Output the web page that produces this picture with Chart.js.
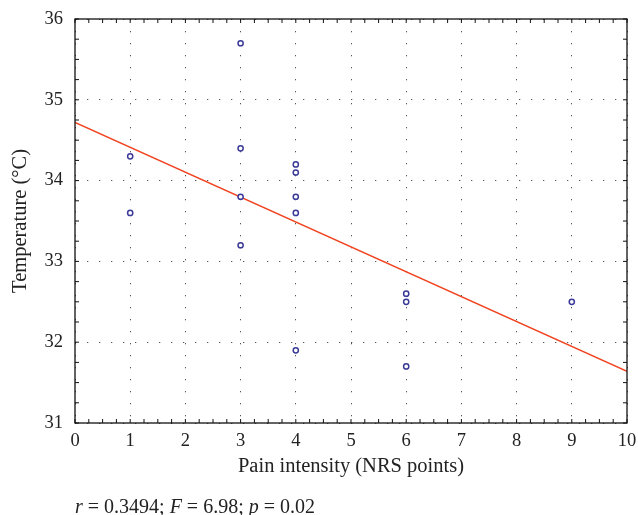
<!DOCTYPE html>
<html>
<head>
<meta charset="utf-8">
<script src="https://cdn.jsdelivr.net/npm/chart.js@4.4.1/dist/chart.umd.min.js"></script>
<style>
    body { margin: 0; background: #fff; }
    #wrap { position: relative; width: 638px; height: 515px; }
    #caption {
        position: absolute; left: 75px; top: 495px;
        font-family: 'Liberation Serif', serif; font-size: 20px; color: #222;
        line-height: 22px;
    }
</style>
</head>
<body>
<div id="wrap">
    <canvas id="scatterChart" width="638" height="515"></canvas>
    <div id="caption"><i>r</i> = 0.3494; <i>F</i> = 6.98; <i>p</i> = 0.02</div>
</div>
<script>
// Datos
const painX = [1, 1, 3, 3, 3, 3, 4, 4, 4, 4, 4, 6, 6, 6, 9];
const tempY = [34.3, 33.6, 35.7, 34.4, 33.8, 33.2, 34.2, 34.1, 33.8, 33.6, 31.9, 32.6, 32.5, 31.7, 32.5];

const fitX = [0, 10];
const fitY = [34.72, 31.64];

const xTicks = [0, 1, 2, 3, 4, 5, 6, 7, 8, 9, 10];
const yTicks = [31, 32, 33, 34, 35, 36];

const serif = "'Liberation Serif', 'Times New Roman', serif";

// Marco negro y marcas menores hacia dentro en los cuatro lados
const frameTicks = {
    id: 'frameTicks',
    afterDraw(chart) {
        const ctx = chart.ctx;
        const a = chart.chartArea;
        const xs = chart.scales.x;
        const ys = chart.scales.y;
        ctx.save();
        ctx.strokeStyle = '#111';
        ctx.lineWidth = 1.3;
        ctx.strokeRect(a.left, a.top, a.right - a.left, a.bottom - a.top);
        ctx.lineWidth = 1;
        ctx.beginPath();
        for (let v = xTicks[0]; v <= xTicks[xTicks.length - 1] + 0.001; v += 0.25) {
            const px = xs.getPixelForValue(v);
            ctx.moveTo(px, a.bottom); ctx.lineTo(px, a.bottom - 4);
            ctx.moveTo(px, a.top); ctx.lineTo(px, a.top + 4);
        }
        for (let v = yTicks[0]; v <= yTicks[yTicks.length - 1] + 0.001; v += 0.25) {
            const py = ys.getPixelForValue(v);
            ctx.moveTo(a.left, py); ctx.lineTo(a.left + 4, py);
            ctx.moveTo(a.right, py); ctx.lineTo(a.right - 4, py);
        }
        ctx.stroke();
        ctx.restore();
    }
};

const ctxScatter = document.getElementById('scatterChart').getContext('2d');
const scatterChart = new Chart(ctxScatter, {
    type: 'scatter',
    data: {
        datasets: [{
            label: 'Pacientes',
            data: painX.map((x, i) => ({ x: x, y: tempY[i] })),
            pointStyle: 'circle',
            pointRadius: 2.6,
            pointBorderWidth: 1.5,
            borderColor: '#3a3a98',
            backgroundColor: 'rgba(255,255,255,1)'
        }, {
            label: 'Regresión',
            data: fitX.map((x, i) => ({ x: x, y: fitY[i] })),
            showLine: true,
            pointRadius: 0,
            borderColor: '#f0431f',
            borderWidth: 1.3
        }]
    },
    options: {
        responsive: false,
        animation: false,
        layout: { padding: { left: 0, top: 19, right: 11, bottom: 32 } },
        plugins: {
            legend: { display: false },
            tooltip: { enabled: false }
        },
        scales: {
            x: {
                type: 'linear',
                min: 0,
                max: 10,
                afterBuildTicks: (s) => { s.ticks = xTicks.map(v => ({ value: v })); },
                afterFit: (s) => { s.height = 60; s.paddingLeft = 0; s.paddingRight = 0; },
                grid: { color: '#555', lineWidth: 1, drawTicks: false },
                border: { display: false, dash: [1.3, 10.7] },
                ticks: { color: '#222', padding: 7, font: { family: serif, size: 18.5 } },
                title: {
                    display: true,
                    text: 'Pain intensity (NRS points)',
                    color: '#222',
                    font: { family: serif, size: 20.5 },
                    padding: { top: 0, bottom: 4 }
                }
            },
            y: {
                type: 'linear',
                min: 31,
                max: 36,
                afterBuildTicks: (s) => { s.ticks = yTicks.map(v => ({ value: v })); },
                afterFit: (s) => { s.width = 75; s.paddingTop = 0; s.paddingBottom = 0; },
                grid: { color: '#555', lineWidth: 1, drawTicks: false },
                border: { display: false, dash: [1.3, 10.7] },
                ticks: { color: '#222', padding: 12, font: { family: serif, size: 18.5 } },
                title: {
                    display: true,
                    text: 'Temperature (°C)',
                    color: '#222',
                    font: { family: serif, size: 20.5 },
                    padding: { top: 8, bottom: 0 }
                }
            }
        }
    },
    plugins: [frameTicks]
});
</script>
</body>
</html>
